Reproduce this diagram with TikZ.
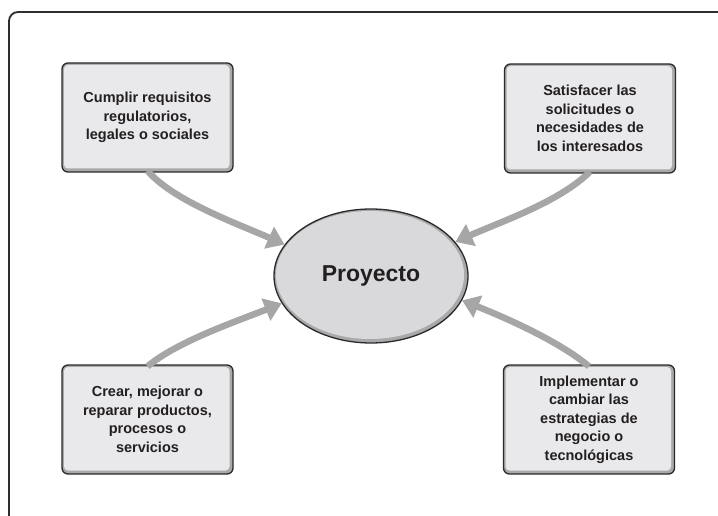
\documentclass[tikz,border=0pt]{standalone}
\usepackage{fontspec}
\setmainfont{Liberation Sans}
\usetikzlibrary{shapes.geometric,arrows.meta}
\definecolor{framecol}{HTML}{2E2E2E}
\definecolor{outline}{HTML}{2A2A2A}
\definecolor{bandcol}{HTML}{A9A9AB}
\definecolor{boxin}{HTML}{E9E9EB}
\definecolor{ellin}{HTML}{D9D9DC}
\definecolor{arrowcol}{HTML}{A6A6A6}
\definecolor{txt}{HTML}{231F20}
\tikzset{
  boxnode/.style={draw=outline, line width=1.3pt, fill=bandcol, rounded corners=6pt,
    minimum width=171pt, minimum height=109pt, inner sep=0pt, align=center,
    text=txt, font=\fontsize{14.5}{18.5}\selectfont\bfseries,
    path picture={\fill[boxin, rounded corners=4pt]
      ([shift={(2pt,-2pt)}]path picture bounding box.north west) rectangle
      ([shift={(-3.5pt,3.5pt)}]path picture bounding box.south east);}},
  ellnode/.style={ellipse, draw=outline, line width=1.3pt, fill=bandcol,
    minimum width=194pt, minimum height=134pt, inner sep=0pt,
    text=txt, font=\fontsize{23}{26}\selectfont\bfseries,
    path picture={\fill[ellin] ([shift={(-1pt,1pt)}]path picture bounding box.center)
      ellipse [x radius=94pt, y radius=64pt];}},
  conn/.style={draw=arrowcol, line width=6.5pt,
    -{Triangle[length=17pt,width=23pt]}, arrowcol},
  framestyle/.style={draw=framecol, line width=1.8pt, rounded corners=9pt}
}
\begin{document}
\begin{tikzpicture}[x=1pt,y=-1pt]
\useasboundingbox (0,0) rectangle (718,516);
\clip (0,0) rectangle (718,516);
\fill[white] (0,0) rectangle (718,516);
\draw[framestyle] (9,540) -- (9,12) -- (740,12);

\node[ellnode] (e) at (371,276) {Proyecto};

\node[boxnode] (tl) at (147.5,117.5) {Cumplir requisitos\\regulatorios,\\legales o sociales};
\node[boxnode] (tr) at (590,118.5) {Satisfacer las\\solicitudes o\\necesidades de\\los interesados};
\node[boxnode] (bl) at (147.5,419.5) {Crear, mejorar o\\reparar productos,\\procesos o\\servicios};
\node[boxnode] (br) at (589,419.5) {Implementar o\\cambiar las\\estrategias de\\negocio o\\tecnológicas};

\begin{scope}[on background layer/.try]
\end{scope}
\draw[conn] ([yshift=2pt]tl.south) .. controls +(25,30) and +(-45,-20) .. (e.160);
\draw[conn] ([yshift=2pt]tr.south) .. controls +(-30,30) and +(45,-20) .. (e.22);
\draw[conn] ([yshift=-2pt]bl.north) .. controls +(30,-25) and +(-45,18) .. (e.197);
\draw[conn] ([yshift=-2pt]br.north) .. controls +(-30,-25) and +(45,18) .. (e.345);
\end{tikzpicture}
\end{document}
